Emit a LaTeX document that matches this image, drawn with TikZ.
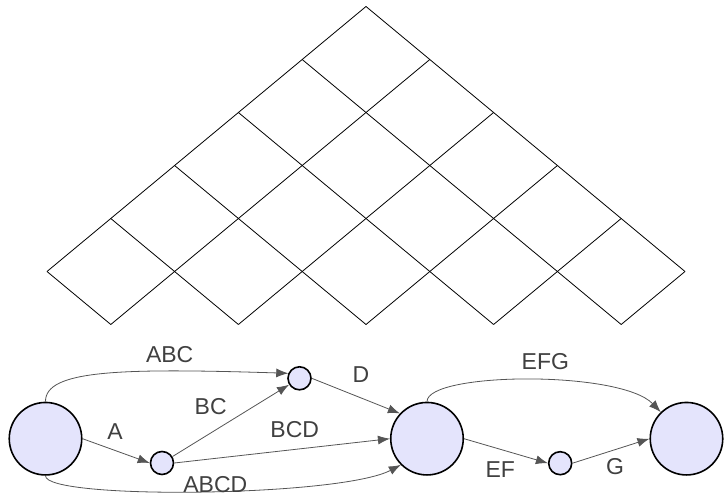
\documentclass[tikz,border=0pt]{standalone}
\usepackage{fontspec}
\setmainfont{Liberation Sans}
\usetikzlibrary{arrows.meta}
\definecolor{cfill}{RGB}{228,228,252}
\definecolor{edgec}{RGB}{85,85,85}
\definecolor{txt}{RGB}{64,64,64}
\begin{document}
\begin{tikzpicture}[x=1pt,y=-1pt,
  gridline/.style={line width=0.8pt, draw=black},
  bignode/.style={circle, draw=black, line width=1.6pt, fill=cfill, minimum size=72.5pt, inner sep=0pt},
  smallnode/.style={circle, draw=black, line width=1.6pt, fill=cfill, minimum size=23pt, inner sep=0pt},
  conn/.style={draw=edgec, line width=0.8pt, -{Latex[length=12pt,width=9pt]}},
  lbl/.style={text=txt, font=\fontsize{23}{26}\selectfont, inner sep=0pt}]
\useasboundingbox (0,0) rectangle (724,498);
% staircase grid
\foreach \i/\m in {0/5,1/5,2/4,3/3,4/2,5/1}{
  \draw[gridline] ({366-63.8*\i},{6.5+53*\i}) -- ({366+63.8*(\m-\i)},{6.5+53*(\i+\m)});
  \draw[gridline] ({366+63.8*\i},{6.5+53*\i}) -- ({366+63.8*(\i-\m)},{6.5+53*(\i+\m)});
}
% nodes
\node[bignode] (L) at (45.5,438.7) {};
\node[smallnode] (S1) at (162,463) {};
\node[smallnode] (T) at (299.5,378.3) {};
\node[bignode] (M) at (427,438.7) {};
\node[smallnode] (S2) at (560.2,463.2) {};
\node[bignode] (R) at (686.5,438.7) {};
% connectors
\draw[conn] (L.north) .. controls (45,370) and (120,368) .. (T.156);
\draw[conn] (L.east) -- (S1.west);
\draw[conn] (S1) -- (T);
\draw[conn] (S1.east) -- (M.west);
\draw[conn] (L.south) .. controls (45,500) and (340,497) .. (M.225);
\draw[conn] (T.east) -- (M.137);
\draw[conn] (M.north) .. controls (427,372) and (620,370) .. (R.134);
\draw[conn] (M.east) -- (S2.west);
\draw[conn] (S2.east) -- (R.west);
% labels
\node[lbl] (lABC) at (169.7,355) {ABC};
\node[lbl] (lA) at (115,431.7) {A};
\node[lbl] (lBC) at (210.7,406.7) {BC};
\node[lbl] (lBCD) at (294.7,429.3) {BCD};
\node[lbl] (lABCD) at (215.3,485) {ABCD};
\node[lbl] (lD) at (361,375) {D};
\node[lbl] (lEFG) at (545.3,361.7) {EFG};
\node[lbl] (lEF) at (500.3,470) {EF};
\node[lbl] (lG) at (615,466.7) {G};
\end{tikzpicture}
\end{document}
